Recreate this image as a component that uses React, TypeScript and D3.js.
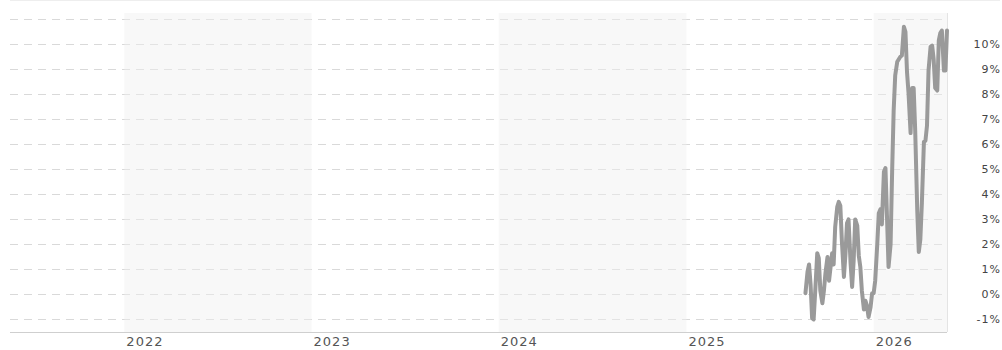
import React from "react";
import * as d3 from "d3";

const dates: string[] = [
  "2025-08-21","2025-08-25","2025-08-28","2025-08-31","2025-09-03","2025-09-06","2025-09-09","2025-09-13",
  "2025-09-16","2025-09-19","2025-09-23","2025-09-26","2025-09-29","2025-10-03","2025-10-06","2025-10-09",
  "2025-10-12","2025-10-15","2025-10-18","2025-10-22","2025-10-25","2025-10-28","2025-10-31","2025-11-04",
  "2025-11-07","2025-11-10","2025-11-13","2025-11-17","2025-11-20","2025-11-23","2025-11-26","2025-11-30",
  "2025-12-03","2025-12-06","2025-12-09","2025-12-13","2025-12-16","2025-12-19","2025-12-22","2025-12-26",
  "2025-12-29","2026-01-01","2026-01-04","2026-01-08","2026-01-11","2026-01-14","2026-01-17","2026-01-21",
  "2026-01-24","2026-01-27","2026-01-30","2026-02-03","2026-02-06","2026-02-09","2026-02-12","2026-02-16",
  "2026-02-19","2026-02-22","2026-02-25","2026-03-01","2026-03-04","2026-03-07","2026-03-10","2026-03-14",
  "2026-03-17","2026-03-20","2026-03-23","2026-03-27","2026-03-30","2026-04-02","2026-04-05","2026-04-09",
  "2026-04-12","2026-04-15","2026-04-18","2026-04-22","2026-04-25","2026-04-28","2026-05-01","2026-05-05",
  "2026-05-08","2026-05-11","2026-05-14","2026-05-18","2026-05-21","2026-05-24",
];

const values: number[] = [
  0.05, 0.9, 1.2, 0.4, -0.95, -1.0, 0.1, 1.65,
  1.45, 0.15, -0.35, 0.15, 0.85, 1.5, 0.55, 1.1,
  1.65, 1.2, 2.7, 3.5, 3.7, 3.55, 2.15, 0.7,
  1.6, 2.85, 3.0, 1.25, 0.3, 1.35, 3.0, 2.75,
  1.55, 1.1, 0.15, -0.6, -0.25, -0.45, -0.9, -0.5,
  0.05, 0.05, 0.55, 2.0, 3.25, 3.4, 2.8, 4.9,
  5.05, 3.1, 1.1, 2.0, 4.9, 7.35, 8.75, 9.3,
  9.4, 9.5, 9.55, 10.7, 10.5, 8.9, 8.05, 6.45,
  8.25, 8.25, 6.55, 3.35, 1.7, 2.2, 3.65, 6.1,
  6.15, 6.75, 8.95, 9.9, 9.95, 9.4, 8.25, 8.15,
  10.15, 10.45, 10.55, 8.95, 8.95, 10.55,
];

const yTicks: number[] = [-1, 0, 1, 2, 3, 4, 5, 6, 7, 8, 9, 10];
const gridValues: number[] = [-1, 0, 1, 2, 3, 4, 5, 6, 7, 8, 9, 10, 11];
const years: number[] = [2022, 2023, 2024, 2025, 2026];
const shadedYears: number[] = [2022, 2024, 2026];

const W = 1002;
const H = 350;
const left = 10;
const right = 947;
const top = 13;
const bottom = 332;

export default function App() {
  const parse = d3.timeParse("%Y-%m-%d");
  const x = d3
    .scaleTime()
    .domain([new Date(2021, 4, 23), new Date(2026, 4, 24)])
    .range([left, right]);
  const y = d3.scaleLinear().domain([-1.5, 11.25]).range([bottom, top]);

  const data = dates.map((d, i) => ({ date: parse(d) as Date, value: values[i] }));
  const line = d3
    .line<{ date: Date; value: number }>()
    .x((d) => x(d.date))
    .y((d) => y(d.value));

  return (
    <svg
      width={W}
      height={H}
      style={{ position: "absolute", left: 0, top: 0, background: "#fff" }}
      fontFamily="DejaVu Sans, Verdana, sans-serif"
    >
      <line x1={left} x2={1000} y1={0.5} y2={0.5} stroke="#eeeeee" />
      {gridValues.map((v) => (
        <line
          key={"g" + v}
          x1={left}
          x2={right}
          y1={Math.round(y(v)) + 0.5}
          y2={Math.round(y(v)) + 0.5}
          stroke="#d9d9d9"
          strokeDasharray="8,6"
        />
      ))}
      {shadedYears.map((yr) => {
        const x0 = x(new Date(yr, 0, 1));
        const x1 = Math.min(right, x(new Date(yr + 1, 0, 1)));
        return (
          <rect
            key={"b" + yr}
            x={x0}
            y={top}
            width={x1 - x0}
            height={bottom - top}
            fill="#f0f0f0"
            fillOpacity={0.45}
          />
        );
      })}
      <line x1={right + 0.5} x2={right + 0.5} y1={top} y2={bottom} stroke="#e4e4e4" />
      <line x1={left} x2={right} y1={bottom + 0.5} y2={bottom + 0.5} stroke="#cfcfcf" />
      <path
        d={line(data) || ""}
        fill="none"
        stroke="#9a9a9a"
        strokeWidth={4}
        strokeLinejoin="round"
        strokeLinecap="round"
      />
      {yTicks.map((v) => (
        <text
          key={"t" + v}
          x={1001}
          y={y(v) + 4}
          textAnchor="end"
          fontSize={11}
          letterSpacing={1}
          fill="#444"
        >
          {v + "%"}
        </text>
      ))}
      {years.map((yr) => (
        <text
          key={"y" + yr}
          x={x(new Date(yr, 0, 1)) + 2}
          y={346}
          fontSize={13}
          letterSpacing={1}
          fill="#555"
        >
          {yr}
        </text>
      ))}
    </svg>
  );
}
